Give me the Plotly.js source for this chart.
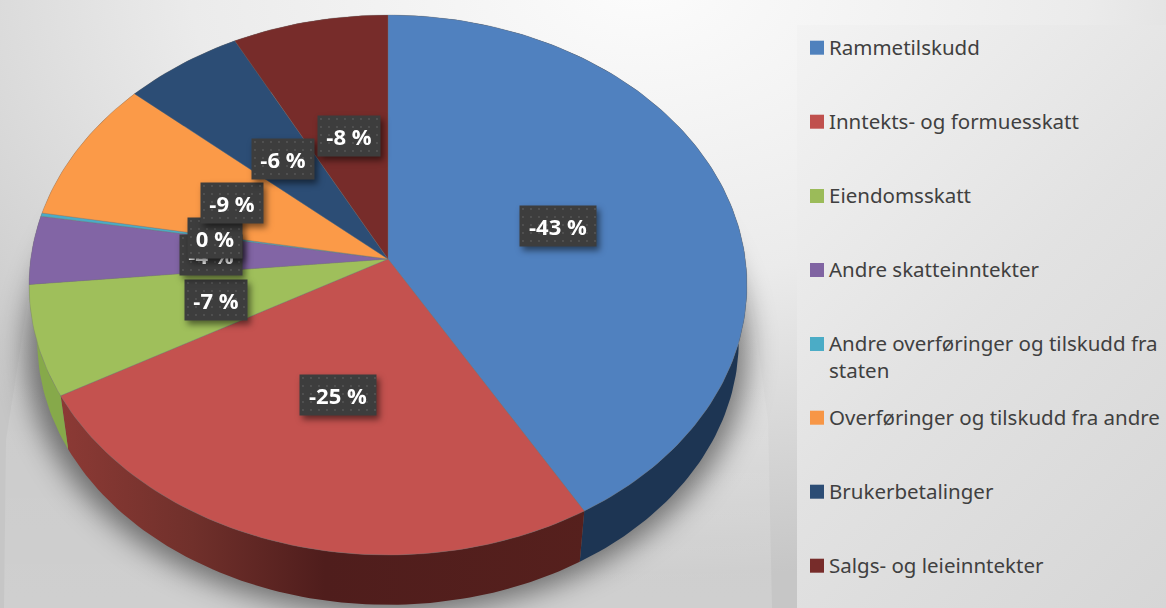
<!DOCTYPE html>
<html><head><meta charset="utf-8">
<script src="https://cdn.plot.ly/plotly-3.0.1.min.js"></script>
<style>
html,body{margin:0;padding:0;width:1166px;height:608px;overflow:hidden}
#bg{position:absolute;left:0;top:0;width:1166px;height:608px;overflow:hidden;
 background:radial-gradient(ellipse 900px 600px at 640px -20px,#fcfcfc 0%,#ebebeb 50%,#c6c6c6 100%)}
#panel{position:absolute;left:797px;top:25px;width:369px;height:583px;
 background:linear-gradient(135deg,#f3f3f3 0%,#e2e2e2 50%,#d6d6d6 100%)}
#softshadow{position:absolute;left:0;top:0;width:1166px;height:608px;
 background:linear-gradient(180deg,rgba(255,255,255,0) 0%,rgba(255,255,255,.16) 100%);
 clip-path:polygon(28px 300px,6px 440px,4px 608px,772px 608px,768px 420px,750px 290px)}
#shadow{position:absolute;left:26px;top:84px;width:722px;height:530px;border-radius:50%;
 background:rgba(0,0,0,.47);filter:blur(14px)}
#chart{position:absolute;left:0;top:0}
</style></head><body>
<div id="bg"><div id="softshadow"></div><div id="shadow"></div><div id="panel"></div></div>
<svg width="0" height="0" style="position:absolute"><defs>
<pattern id="dots" width="8" height="8" patternUnits="userSpaceOnUse">
<rect width="8" height="8" fill="#3d3d3d"></rect><circle cx="4" cy="4" r="0.9" fill="#585858"></circle>
</pattern></defs></svg>
<div id="chart"></div>
<script>
const categories = ["Rammetilskudd","Inntekts- og formuesskatt","Eiendomsskatt","Andre skatteinntekter","Andre overføringer og tilskudd fra<br>staten","Overføringer og tilskudd fra andre","Brukerbetalinger","Salgs- og leieinntekter"];
const shares = [41.6,25.3,6.6,4.1,0.2,8.6,5.9,7.7];
const labels = ["-43 %","-25 %","-7 %","-4 %","0 %","-9 %","-6 %","-8 %"];
const topColors = ["#5081bf","#c4524f","#9fbf5b","#8265a5","#4bacc6","#fb9a48","#2c4d75","#772c2a"];
const legendColors = ["#4f81bd","#c0504d","#9bbb59","#8064a2","#4bacc6","#f79646","#2c4d75","#772c2a"];
const wallColors = ["#1d3553","#5a211e","#86a94a","#6b5288","#3d8fa5","#c97a38","#213a58","#5a211e"];

// perspective projection of the pie disc
const APEX_X=388, APEX_Y=259, A=357.3, B=267.5, K=-0.0963;
const ELL_Y=285, WALL_S=0.977, WALL_Y=341;
const legendRows=[47.7,121.7,196,270,344,417.7,491.7,565.7];

function proj(share,r){
  const th=share/100*2*Math.PI, u=r*Math.sin(th), t=-r*Math.cos(th), w=1+K*t;
  return [APEX_X+A*u/w, APEX_Y+B*t/w];
}
function low(p){return [APEX_X+WALL_S*(p[0]-APEX_X), WALL_Y+WALL_S*(p[1]-ELL_Y)];}

const total=shares.reduce((a,b)=>a+b,0);
let cum=0;
const arcs=shares.map(v=>{const s=cum; cum+=v/total*100; return [s,cum];});
function arc(s,e){const n=Math.max(2,Math.ceil((e-s)*3)),o=[];for(let i=0;i<=n;i++)o.push(proj(s+(e-s)*i/n,1));return o;}

const traces=[];
// walls
arcs.forEach((a,i)=>{
  const top=arc(a[0],a[1]), bot=top.map(low).reverse(), pts=top.concat(bot,[top[0]]);
  const tr={x:pts.map(p=>p[0]),y:pts.map(p=>p[1]),mode:'lines',fill:'toself',line:{width:0,color:wallColors[i]},
    fillcolor:wallColors[i],hoverinfo:'skip',showlegend:false};
  if(i===1){tr.fillgradient={type:'horizontal',start:60,stop:590,
    colorscale:[[0,'#8c3a35'],[0.25,'#70302b'],[0.5,'#4f1d1c'],[1,'#56201d']]};delete tr.fillcolor;}
  traces.push(tr);
});
// top face
arcs.forEach((a,i)=>{
  const pts=[[APEX_X,APEX_Y]].concat(arc(a[0],a[1]),[[APEX_X,APEX_Y]]);
  traces.push({x:pts.map(p=>p[0]),y:pts.map(p=>p[1]),mode:'lines',fill:'toself',
    line:{width:0.6,color:'rgba(120,120,120,0.55)'},fillcolor:topColors[i],name:categories[i],hoverinfo:'name',showlegend:false});
});
// legend swatches
traces.push({x:legendRows.map(()=>817),y:legendRows,mode:'markers',
  marker:{symbol:'square',size:14,color:legendColors,line:{width:0}},hoverinfo:'skip',showlegend:false});

const annotations=[];
arcs.forEach((a,i)=>{
  const p=proj((a[0]+a[1])/2,0.5);
  const wide=labels[i].length>=5;
  annotations.push({x:p[0]+(wide?-0.5:1.5),y:p[1]+1,xref:'x',yref:'y',text:'<b>'+labels[i]+'</b>',showarrow:false,
    font:{family:'Open Sans, Noto Sans, sans-serif',size:22,color:'#ffffff'},
    bgcolor:'#3d3d3d',borderpad:0,width:wide?76:(labels[i].length===3?54:62),height:40,
    xanchor:'center',yanchor:'middle',align:'center',valign:'middle'});
});
categories.forEach((c,i)=>{
  annotations.push({x:829,y:legendRows[i]-15,xref:'x',yref:'y',text:c,showarrow:false,
    font:{family:'Noto Sans, sans-serif',size:20.5,color:'#404040'},
    xanchor:'left',yanchor:'top',align:'left',borderpad:0,borderwidth:0});
});

const layout={width:1166,height:608,margin:{l:0,r:0,t:0,b:0},showlegend:false,
  paper_bgcolor:'rgba(0,0,0,0)',plot_bgcolor:'rgba(0,0,0,0)',
  xaxis:{range:[0,1166],visible:false,fixedrange:true},
  yaxis:{range:[608,0],visible:false,fixedrange:true},
  annotations:annotations};
Plotly.newPlot('chart',traces,layout,{displayModeBar:false}).then(()=>{
  document.querySelectorAll('#chart g.annotation').forEach(g=>{
    const idx=+g.getAttribute('data-index');
    if(idx<labels.length){
      const r=g.querySelector('rect.bg');
      if(r){r.style.setProperty('fill','url(#dots)');r.style.setProperty('fill-opacity','1');}
      g.style.filter='drop-shadow(3px 4px 3px rgba(0,0,0,0.5))';
    }
  });
});
</script></body></html>
